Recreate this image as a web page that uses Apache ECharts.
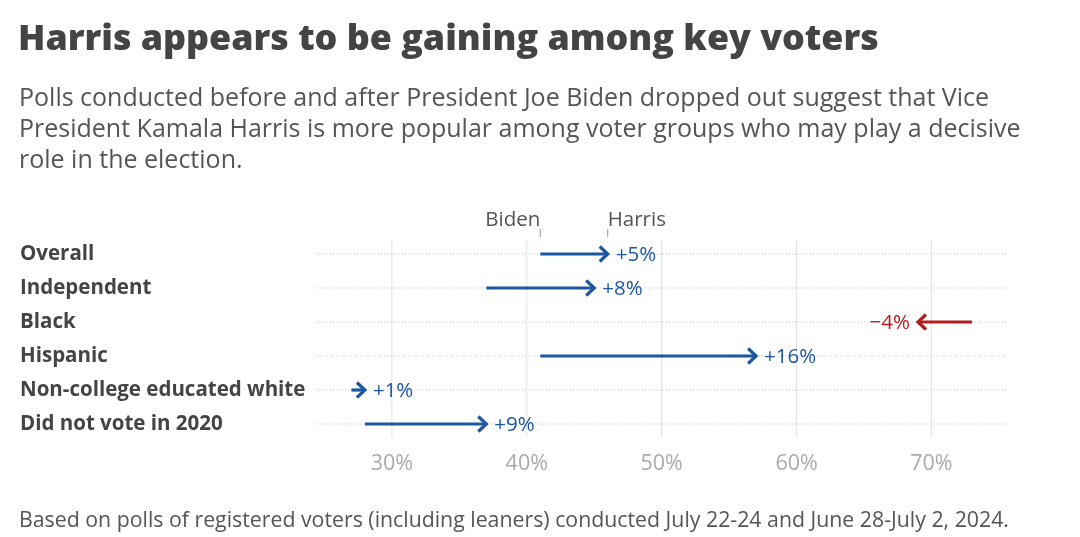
<!DOCTYPE html>
<html><head><meta charset="utf-8">
<script src="https://cdn.jsdelivr.net/npm/echarts@6/dist/echarts.min.js"></script>
<style>html,body{margin:0;padding:0;background:#fff}#c{width:1080px;height:537px}</style>
</head><body><div id="c"></div>
<script>
const categories = ['Overall','Independent','Black','Hispanic','Non-college educated white','Did not vote in 2020'];
const bidenShare = [41, 37, 73, 41, 27, 28];
const harrisShare = [46, 45, 69, 57, 28, 37];
const changeLabels = ['+5%','+8%','\u22124%','+16%','+1%','+9%'];
const tickValues = [30, 40, 50, 60, 70];
const markerNames = ['Biden', 'Harris'];

const BLUE = '#1d57a0', RED = '#b11d1d';
const FONT = '"Open Sans", "Noto Sans", sans-serif';

const seriesData = categories.map((c, i) => [bidenShare[i], harrisShare[i], i]);

function renderItem(params, api) {
  const b = api.value(0), h = api.value(1), idx = api.value(2);
  const p0 = api.coord([b, idx]);
  const p1 = api.coord([h, idx]);
  const cs = params.coordSys;
  const y = p0[1];
  const dir = h >= b ? 1 : -1;
  const color = dir > 0 ? BLUE : RED;
  const children = [
    { type: 'line', z2: 1, shape: { x1: cs.x, y1: y, x2: cs.x + cs.width, y2: y },
      style: { stroke: '#c8c8c8', lineWidth: 1, lineDash: [1, 2] } },
    { type: 'line', z2: 5, shape: { x1: p0[0], y1: y, x2: p1[0] - dir * 1.5, y2: y },
      style: { stroke: color, lineWidth: 3.2 } },
    { type: 'polyline', z2: 6, shape: { points: [[p1[0] - dir * 8, y - 7.5], [p1[0], y], [p1[0] - dir * 8, y + 7.5]] },
      style: { stroke: color, lineWidth: 3.2, fill: null, lineJoin: 'miter' } },
    { type: 'text', z2: 7, x: p1[0] + dir * 8, y: y + 1,
      style: { text: changeLabels[idx], fill: color, fontSize: 20.5, fontFamily: FONT,
               align: dir > 0 ? 'left' : 'right', verticalAlign: 'middle' } }
  ];
  if (idx === 0) {
    const top = cs.y;
    tickValues.forEach(v => {
      const gx = api.coord([v, 0])[0];
      children.push({ type: 'line', z2: 0, shape: { x1: gx, y1: top + 3, x2: gx, y2: top + cs.height - 4 },
        style: { stroke: '#e2e2e2', lineWidth: 1 } });
    });
    children.push(
      { type: 'line', shape: { x1: p0[0], y1: top - 8, x2: p0[0], y2: top }, style: { stroke: '#999', lineWidth: 1 } },
      { type: 'line', shape: { x1: p1[0], y1: top - 8, x2: p1[0], y2: top }, style: { stroke: '#999', lineWidth: 1 } },
      { type: 'text', x: p0[0], y: top - 17, style: { text: markerNames[0], fill: '#555', fontSize: 20.5, fontFamily: FONT, align: 'right', verticalAlign: 'middle' } },
      { type: 'text', x: p1[0], y: top - 17, style: { text: markerNames[1], fill: '#555', fontSize: 20.5, fontFamily: FONT, align: 'left', verticalAlign: 'middle' } }
    );
  }
  return { type: 'group', children };
}

const chart = echarts.init(document.getElementById('c'), null, { renderer: 'canvas' });
chart.setOption({
  animation: false,
  backgroundColor: '#fff',
  title: [
    { text: 'Harris appears to be gaining among key voters', left: 13, top: 17,
      textStyle: { fontFamily: FONT, fontSize: 35.8, fontWeight: 800, color: '#444' } },
    { text: 'Polls conducted before and after President Joe Biden dropped out suggest that Vice\nPresident Kamala Harris is more popular among voter groups who may play a decisive\nrole in the election.',
      left: 14, top: 78,
      textStyle: { fontFamily: FONT, fontSize: 25, fontWeight: 'normal', color: '#555', lineHeight: 31 } },
    { text: 'Based on polls of registered voters (including leaners) conducted July 22-24 and June 28-July 2, 2024.',
      left: 14, top: 505,
      textStyle: { fontFamily: FONT, fontSize: 21.3, fontWeight: 'normal', color: '#555' } }
  ],
  grid: { left: 315, right: 73, top: 237, bottom: 96 },
  xAxis: {
    type: 'value', min: 24.3, max: 75.6,
    axisLine: { show: false }, axisTick: { show: false }, splitLine: { show: false },
    axisLabel: { customValues: tickValues, formatter: '{value}%', color: '#aaa', fontSize: 21.5, fontFamily: FONT, margin: 12 }
  },
  yAxis: {
    type: 'category', data: categories, inverse: true,
    axisLine: { show: false }, axisTick: { show: false }, splitLine: { show: false },
    axisLabel: { align: 'left', margin: 295, fontSize: 20.5, fontWeight: 'bold', color: '#444', fontFamily: FONT }
  },
  series: [{
    type: 'custom',
    renderItem,
    encode: { x: [0, 1], y: 2 },
    data: seriesData
  }]
});
</script></body></html>
